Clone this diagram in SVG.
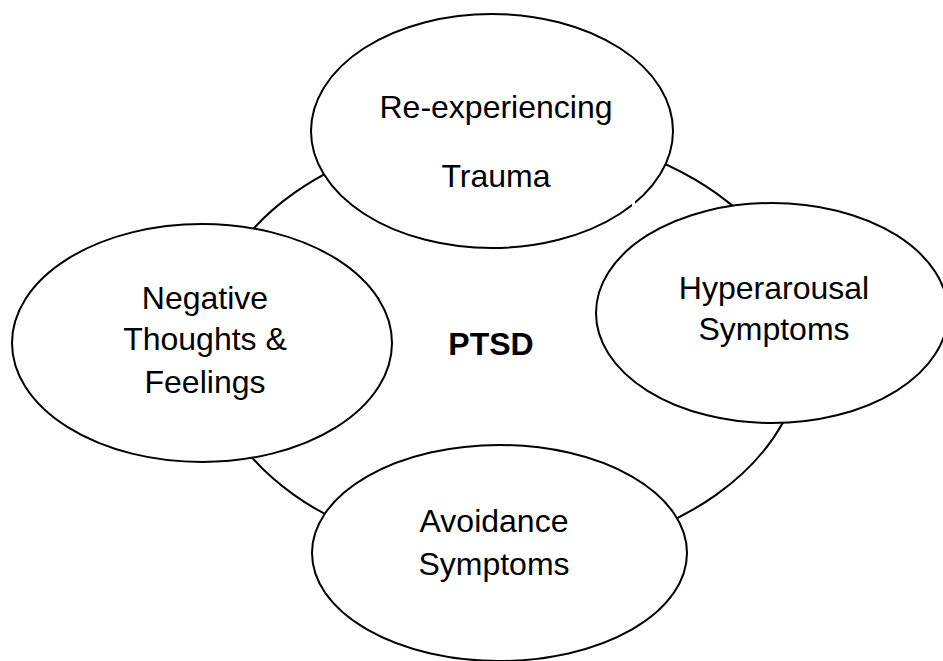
<svg xmlns="http://www.w3.org/2000/svg" width="943" height="661" viewBox="0 0 943 661">
<style>
.e{fill:#fff;stroke:#000;stroke-width:2}
.c{fill:none;stroke:#000;stroke-width:2}
.t{font-family:"Liberation Sans",Arial,sans-serif;font-size:32px;fill:#000;text-anchor:middle}
.b{font-weight:bold}
</style>
<rect width="943" height="661" fill="#fff"/>
<g id="connectors">
<ellipse class="c" cx="505" cy="344" rx="299" ry="213"/>
</g>
<g id="ptsd">
<text class="t b" x="491" y="355">PTSD</text>
</g>
<g id="top">
<ellipse class="e" cx="492" cy="131" rx="181" ry="117"/>
<text class="t" x="496" y="118">Re-experiencing</text>
<text class="t" x="496" y="187">Trauma</text>
<rect x="632" y="201" width="3" height="5" fill="#fff"/>
</g>
<g id="right">
<ellipse class="e" cx="772" cy="313" rx="176" ry="110"/>
<text class="t" x="774" y="299">Hyperarousal</text>
<text class="t" x="774" y="340">Symptoms</text>
</g>
<g id="left">
<ellipse class="e" cx="202" cy="343" rx="190" ry="119"/>
<text class="t" x="205" y="309">Negative</text>
<text class="t" x="205" y="350">Thoughts &amp;</text>
<text class="t" x="205" y="393">Feelings</text>
</g>
<g id="bottom">
<ellipse class="e" cx="499.5" cy="553" rx="187.5" ry="108"/>
<text class="t" x="494" y="532">Avoidance</text>
<text class="t" x="494" y="575">Symptoms</text>
</g>
</svg>
